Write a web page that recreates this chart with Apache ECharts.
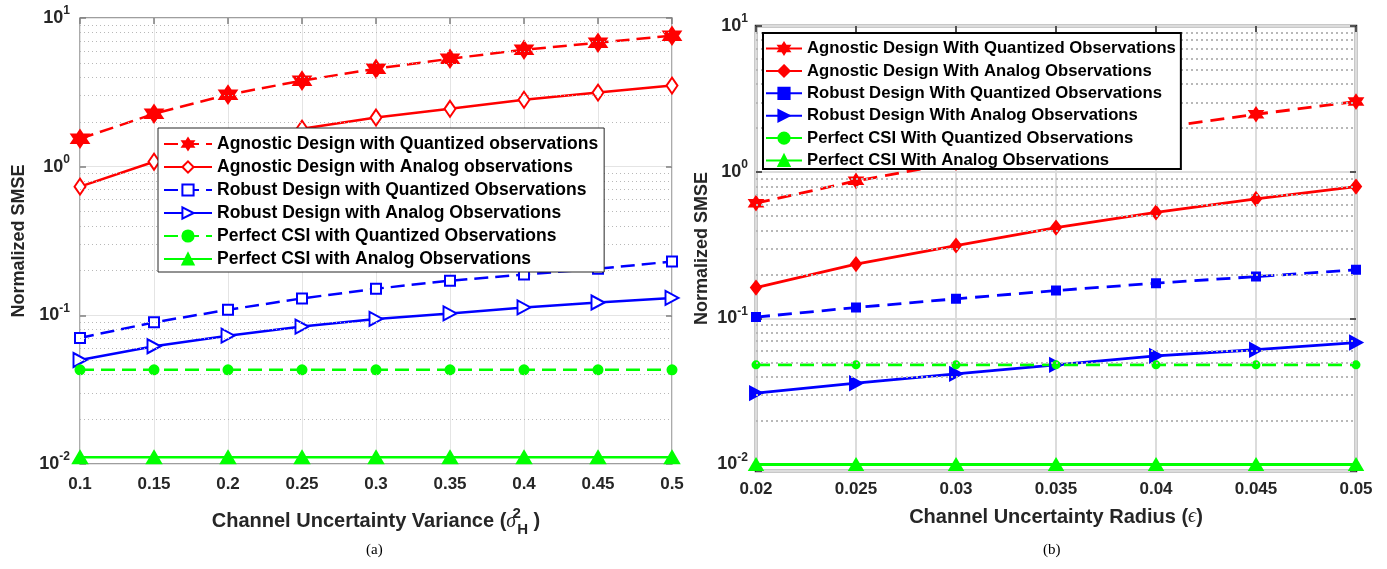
<!DOCTYPE html>
<html>
<head>
<meta charset="utf-8">
<script src="https://cdn.jsdelivr.net/npm/echarts@6/dist/echarts.min.js"></script>
<style>
html,body{margin:0;padding:0;background:#fff;}
#c{width:1387px;height:569px;}
</style>
</head>
<body>
<div id="c"></div>
<script>
// ---------- Data (a) ----------
var xLeft = [0.1, 0.15, 0.2, 0.25, 0.3, 0.35, 0.4, 0.45, 0.5];
var aAgnosticQuant  = [1.54, 2.27, 3.05, 3.79, 4.56, 5.32, 6.12, 6.82, 7.6];
var aAgnosticAnalog = [0.734, 1.08, 1.42, 1.80, 2.14, 2.45, 2.82, 3.15, 3.51];
var aRobustQuant    = [0.0705, 0.0897, 0.109, 0.130, 0.151, 0.171, 0.188, 0.206, 0.230];
var aRobustAnalog   = [0.0501, 0.0619, 0.073, 0.084, 0.0946, 0.103, 0.113, 0.122, 0.131];
var aPerfectQuant   = [0.043, 0.043, 0.043, 0.043, 0.043, 0.043, 0.043, 0.043, 0.043];
var aPerfectAnalog  = [0.0111, 0.0111, 0.0111, 0.0111, 0.0111, 0.0111, 0.0111, 0.0111, 0.0111];
var aNames = ['Agnostic Design with Quantized observations', 'Agnostic Design with Analog observations',
  'Robust Design with Quantized Observations', 'Robust Design with Analog Observations',
  'Perfect CSI with Quantized Observations', 'Perfect CSI with Analog Observations'];

// ---------- Data (b) ----------
var xRight = [0.02, 0.025, 0.03, 0.035, 0.04, 0.045, 0.05];
var bAgnosticQuant  = [0.614, 0.872, 1.16, 1.52, 2.0, 2.49, 3.04];
var bAgnosticAnalog = [0.1625, 0.235, 0.315, 0.418, 0.53, 0.656, 0.797];
var bRobustQuant    = [0.102, 0.1186, 0.136, 0.155, 0.174, 0.193, 0.215];
var bRobustAnalog   = [0.0308, 0.036, 0.0417, 0.0481, 0.0554, 0.061, 0.0683];
var bPerfectQuant   = [0.0481, 0.0481, 0.0481, 0.0481, 0.0481, 0.0481, 0.0481];
var bPerfectAnalog  = [0.01, 0.01, 0.01, 0.01, 0.01, 0.01, 0.01];
var bNames = ['Agnostic Design With Quantized Observations', 'Agnostic Design With Analog Observations',
  'Robust Design With Quantized Observations', 'Robust Design With Analog Observations',
  'Perfect CSI With Quantized Observations', 'Perfect CSI With Analog Observations'];

// minor log grid values
var minorGrid = [0.02,0.03,0.04,0.05,0.06,0.07,0.08,0.09,0.2,0.3,0.4,0.5,0.6,0.7,0.8,0.9,2,3,4,5,6,7,8,9];

var STAR = 'path://M100,0 L128.87,50 L186.6,50 L157.7,100 L186.6,150 L128.87,150 L100,200 L71.13,150 L13.4,150 L42.3,100 L13.4,50 L71.13,50 Z';
var RED = '#ff0000', BLUE = '#0000ff', GREEN = '#00ff00';
var NARROW = '"Liberation Sans Narrow", "Arial Narrow", "Liberation Sans", Arial, sans-serif';
var SANS = '"Liberation Sans", Arial, Helvetica, sans-serif';

function pairs(xs, ys) { return xs.map(function (x, i) { return [x, ys[i]]; }); }

function logLabel(v) {
  var e = Math.log10(v), r = Math.round(e);
  if (Math.abs(e - r) > 1e-6) return '';
  return '{b|10}{s|' + r + '}';
}
var yRich = {
  b: {fontFamily: SANS, fontWeight: 'bold', fontSize: 18, color: '#262626'},
  s: {fontFamily: SANS, fontWeight: 'bold', fontSize: 12, color: '#262626', padding: [0, 0, 14, 0]}
};

function line(name, xi, xs, ys, color, dash, symbol, size, fill, rotate, lw) {
  return {
    name: name, type: 'line', xAxisIndex: xi, yAxisIndex: xi * 2,
    data: pairs(xs, ys), symbol: symbol, symbolSize: size, symbolRotate: rotate || 0,
    showAllSymbol: true, animation: false, z: 3,
    lineStyle: {color: color, width: lw, type: dash || 'solid'},
    itemStyle: {color: fill, borderColor: color, borderWidth: 2}
  };
}
var DA = [14, 7], DB = [14, 8];

var series = [
  line(aNames[0], 0, xLeft, aAgnosticQuant, RED, DA, STAR, 17, RED, 0, 2.5),
  line(aNames[1], 0, xLeft, aAgnosticAnalog, RED, null, 'diamond', [11, 16], '#fff', 0, 2.5),
  line(aNames[2], 0, xLeft, aRobustQuant, BLUE, DA, 'rect', 10, '#fff', 0, 2.5),
  line(aNames[3], 0, xLeft, aRobustAnalog, BLUE, null, 'triangle', [14, 13], '#fff', -90, 2.5),
  line(aNames[4], 0, xLeft, aPerfectQuant, GREEN, DA, 'circle', 9, GREEN, 0, 2.5),
  line(aNames[5], 0, xLeft, aPerfectAnalog, GREEN, null, 'triangle', [14, 12], GREEN, 0, 2.5),
  line(bNames[0], 1, xRight, bAgnosticQuant, RED, DB, STAR, 13, RED, 0, 2.8),
  line(bNames[1], 1, xRight, bAgnosticAnalog, RED, null, 'diamond', [10, 13], RED, 0, 2.8),
  line(bNames[2], 1, xRight, bRobustQuant, BLUE, DB, 'rect', 8, BLUE, 0, 2.8),
  line(bNames[3], 1, xRight, bRobustAnalog, BLUE, null, 'triangle', [13, 12], BLUE, -90, 2.8),
  line(bNames[4], 1, xRight, bPerfectQuant, GREEN, DB, 'circle', 7, GREEN, 0, 2.8),
  line(bNames[5], 1, xRight, bPerfectAnalog, GREEN, null, 'triangle', [13, 11], GREEN, 0, 2.8),
  {type: 'line', xAxisIndex: 0, yAxisIndex: 0, data: [], silent: true, z: 1, animation: false,
   markLine: {silent: true, symbol: ['none', 'none'], label: {show: false}, animation: false,
     lineStyle: {type: [1, 3], color: '#b8b8b8', width: 1},
     data: minorGrid.map(function (v) { return {yAxis: v}; })}},
  {type: 'line', xAxisIndex: 1, yAxisIndex: 2, data: [], silent: true, z: 1, animation: false,
   markLine: {silent: true, symbol: ['none', 'none'], label: {show: false}, animation: false,
     lineStyle: {type: [2, 3], color: '#b8b8b8', width: 2},
     data: minorGrid.map(function (v) { return {yAxis: v}; })}}
];

function xAxisMain(gi, min, max, interval, nameRich, name, nameGap, splitW, splitC, tickC, margin) {
  return {
    type: 'value', gridIndex: gi, min: min, max: max, interval: interval, position: 'bottom',
    axisLine: {show: false}, axisTick: {show: true, inside: true, length: 6, lineStyle: {color: tickC, width: 1.5}},
    axisLabel: {margin: margin, fontFamily: NARROW, fontWeight: 'bold', fontSize: 17, color: '#262626'},
    splitLine: {show: true, lineStyle: {color: splitC, width: splitW}},
    name: name, nameLocation: 'middle', nameGap: nameGap,
    nameTextStyle: {rich: nameRich}
  };
}
function xAxisTop(gi, min, max, interval, tickC) {
  return {type: 'value', gridIndex: gi, min: min, max: max, interval: interval, position: 'top',
    axisLine: {show: false}, axisTick: {show: true, inside: true, length: 6, lineStyle: {color: tickC, width: 1.5}},
    axisLabel: {show: false}, splitLine: {show: false}};
}
function yAxisMain(gi, min, nameGap, splitW, splitC, tickC, margin) {
  return {type: 'log', logBase: 10, gridIndex: gi, min: min, max: 10, position: 'left',
    axisLine: {show: false}, axisTick: {show: true, inside: true, length: 6, lineStyle: {color: tickC, width: 1.5}},
    axisLabel: {margin: margin, formatter: logLabel, rich: yRich},
    splitLine: {show: true, lineStyle: {color: splitC, width: splitW}},
    name: 'Normalized SMSE', nameLocation: 'middle', nameGap: nameGap,
    nameTextStyle: {fontFamily: SANS, fontWeight: 'bold', fontSize: 18, color: '#262626'}};
}
function yAxisRight(gi, min, tickC) {
  return {type: 'log', logBase: 10, gridIndex: gi, min: min, max: 10, position: 'right',
    axisLine: {show: false}, axisTick: {show: true, inside: true, length: 6, lineStyle: {color: tickC, width: 1.5}},
    axisLabel: {show: false}, splitLine: {show: false}};
}

var titleRich = {
  t: {fontFamily: NARROW, fontWeight: 'bold', fontSize: 20, color: '#262626'},
  g: {fontFamily: '"Liberation Serif", "Times New Roman", serif', fontStyle: 'italic', fontSize: 20, color: '#262626'},
  p: {fontFamily: NARROW, fontWeight: 'bold', fontSize: 15, color: '#262626', width: 1, padding: [0, 0, 16, 0]},
  h: {fontFamily: NARROW, fontWeight: 'bold', fontSize: 15, color: '#262626', padding: [16, 0, 0, 0]}
};

var legendBase = {
  orient: 'vertical', backgroundColor: '#fff', itemWidth: 48, itemHeight: 14, itemGap: 9,
  textStyle: {fontFamily: SANS, fontWeight: 'bold', fontSize: 17.5, color: '#000', lineHeight: 14},
  selectedMode: false, z: 10
};

var option = {
  backgroundColor: '#fff',
  animation: false,
  grid: [
    {left: 80, top: 18, width: 592, height: 446, show: true, borderColor: '#7f7f7f', borderWidth: 1.3, backgroundColor: 'transparent'},
    {left: 756, top: 26, width: 600, height: 445, show: true, borderColor: '#262626', borderWidth: 2.5, backgroundColor: 'transparent'}
  ],
  xAxis: [
    xAxisMain(0, 0.1, 0.5, 0.05, titleRich, '{t|Channel Uncertainty Variance (}{g|\u03c3}{p|2}{h|H}{t| )}', 42, 1, '#e4e4e4', '#7f7f7f', 12),
    xAxisMain(1, 0.02, 0.05, 0.005, titleRich, '{t|Channel Uncertainty Radius (}{g|\u03f5}{t|)}', 36, 2, '#dcdcdc', '#262626', 10),
    xAxisTop(0, 0.1, 0.5, 0.05, '#7f7f7f'),
    xAxisTop(1, 0.02, 0.05, 0.005, '#262626')
  ],
  yAxis: [
    yAxisMain(0, 0.01, 52, 1, '#e4e4e4', '#7f7f7f', 10),
    yAxisRight(0, 0.01, '#7f7f7f'),
    yAxisMain(1, 0.00903, 45, 2, '#dcdcdc', '#262626', 8),
    yAxisRight(1, 0.00903, '#262626')
  ],
  legend: [
    Object.assign({}, legendBase, {data: aNames, left: 158, top: 128, padding: [7, 6, 4, 5], itemGap: 5,
      borderColor: '#262626', borderWidth: 1}),
    Object.assign({}, legendBase, {data: bNames, left: 763, top: 33, padding: [7, 5, 0, 2], itemWidth: 36, itemGap: 5.4,
      textStyle: {fontFamily: SANS, fontWeight: 'bold', fontSize: 16.7, color: '#000', lineHeight: 14},
      borderColor: '#000', borderWidth: 2})
  ],
  graphic: [
    {type: 'text', left: 366, top: 543, style: {text: '(a)', font: '15px "Liberation Serif", "Times New Roman", serif', fill: '#000'}},
    {type: 'text', left: 1043, top: 543, style: {text: '(b)', font: '15px "Liberation Serif", "Times New Roman", serif', fill: '#000'}}
  ],
  series: series
};

var chart = echarts.init(document.getElementById('c'), null, {renderer: 'canvas'});
chart.setOption(option);
</script>
</body>
</html>
